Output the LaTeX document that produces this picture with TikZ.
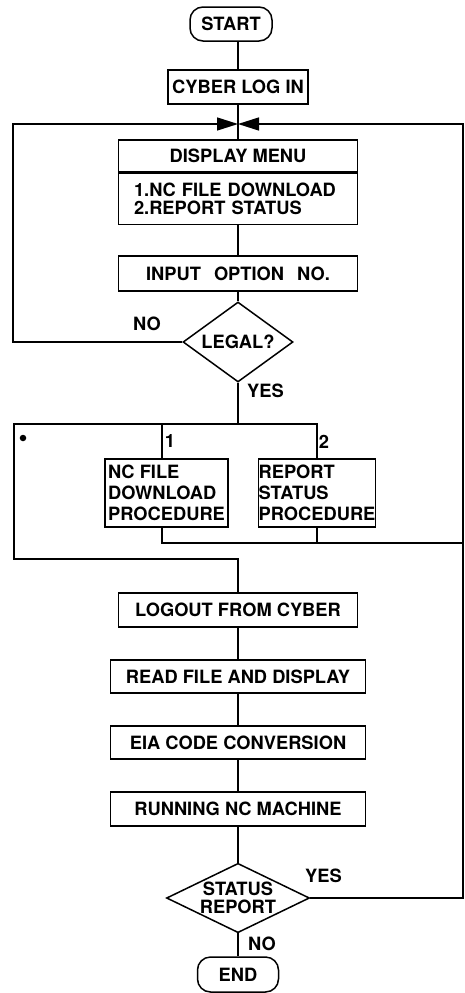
\documentclass[tikz,border=0pt]{standalone}
\usepackage{fontspec}
\setmainfont{TeX Gyre Heros}
\usetikzlibrary{shapes,arrows.meta,positioning}

\begin{document}
\begin{tikzpicture}[
  x=1pt, y=-1pt,
  line width=1.5pt,
  every node/.style={font=\fontsize{18.3}{21}\selectfont\bfseries},
  box/.style={draw, inner sep=2pt, minimum height=34pt},
  terminal/.style={draw, rounded corners=13pt, minimum width=82pt, minimum height=34pt},
  decision/.style={draw, diamond, inner sep=0pt},
  tight/.style={font=\fontsize{18.3}{17.5}\selectfont\bfseries},
  tag/.style={inner sep=0pt},
  arrow/.style={-{Triangle[length=21pt,width=13pt]}},
]
\useasboundingbox (0,0) rectangle (465,993);

\node[terminal] (start) at (231,24) {START};
\node[box, minimum width=140pt] (login) at (238,87) {CYBER LOG IN};
\coordinate (join) at (238,124);
\coordinate (lt) at (13,124);
\coordinate (rt) at (463,124);
\node[box, minimum width=239pt, minimum height=32pt] (menutitle) at (238,156) {DISPLAY MENU};
\node[box, tight, minimum width=239pt, minimum height=51pt, text width=208pt, align=left, below=0pt of menutitle] (menuopts) {1.NC FILE DOWNLOAD\\2.REPORT STATUS};
\node[box, minimum width=239pt, minimum height=35pt] (input) at (238,273.5) {INPUT\hspace{13pt}OPTION\hspace{13pt}NO.};
\node[decision, aspect=1.4, minimum width=110pt, minimum height=80pt] (legal) at (238,342) {LEGAL?};

\coordinate (lb) at (14,424);
\coordinate (lbot) at (14,559);
\coordinate (n1) at (162,424);
\coordinate (rt2) at (463,543);
\node[box, align=left, inner sep=1pt, minimum width=123pt, minimum height=68pt] (nc) at (166.5,493) {NC FILE\\DOWNLOAD\\PROCEDURE};
\node[box, align=left, inner sep=0pt, minimum width=112pt, minimum height=68pt] (rep) at (317,493) {REPORT\\STATUS\\PROCEDURE};

\node[box, minimum width=239pt] (logout) at (238,610) {LOGOUT FROM CYBER};
\node[box, minimum width=255pt, minimum height=33pt] (read) at (238,676.5) {READ FILE AND DISPLAY};
\node[box, minimum width=255pt, minimum height=33pt] (eia) at (238,742.5) {EIA CODE CONVERSION};
\node[box, minimum width=255pt] (run) at (238,809) {RUNNING NC MACHINE};
\node[decision, tight, align=center, aspect=2, minimum width=143pt, minimum height=68pt] (status) at (238,898) {STATUS\\REPORT};
\node[terminal, minimum width=81pt, minimum height=35pt] (end) at (238,974.5) {END};

\node[tag] (legalno) at (147,323.5) {NO};
\node[tag] (legalyes) at (265.5,390.5) {YES};
\node[tag] (one) at (170,441.5) {1};
\node[tag] (two) at (324,441.5) {2};
\node[circle, fill, inner sep=2.3pt] (dot) at (23,438) {};
\node[tag] (statusyes) at (323.5,876) {YES};
\node[tag] (statusno) at (262,943.5) {NO};

\draw (start.south -| login) -- (login);
\draw (login) -- (menutitle);
\draw (menuopts) -- (input);
\draw (input) -- (legal);
\draw[arrow] (legal.west) -- (legal.west -| lt) -- (lt) -- (join);
\draw[arrow] (status.east) -- (status.east -| rt) -- (rt) -- (join);
\draw (legal.south) -- (legal.south |- lb);
\draw (logout.north) -- (logout.north |- lbot) -- (lbot) -- (lb) -- (lb -| rep.north) -- (rep.north);
\draw (n1) -- (n1 |- nc.north);
\draw (n1 |- nc.south) -- (n1 |- rt2) -- (rt2);
\draw (rep.south) -- (rep.south |- rt2);
\draw (logout) -- (read);
\draw (read) -- (eia);
\draw (eia) -- (run);
\draw (run) -- (status);
\draw (status) -- (end);
\end{tikzpicture}
\end{document}
